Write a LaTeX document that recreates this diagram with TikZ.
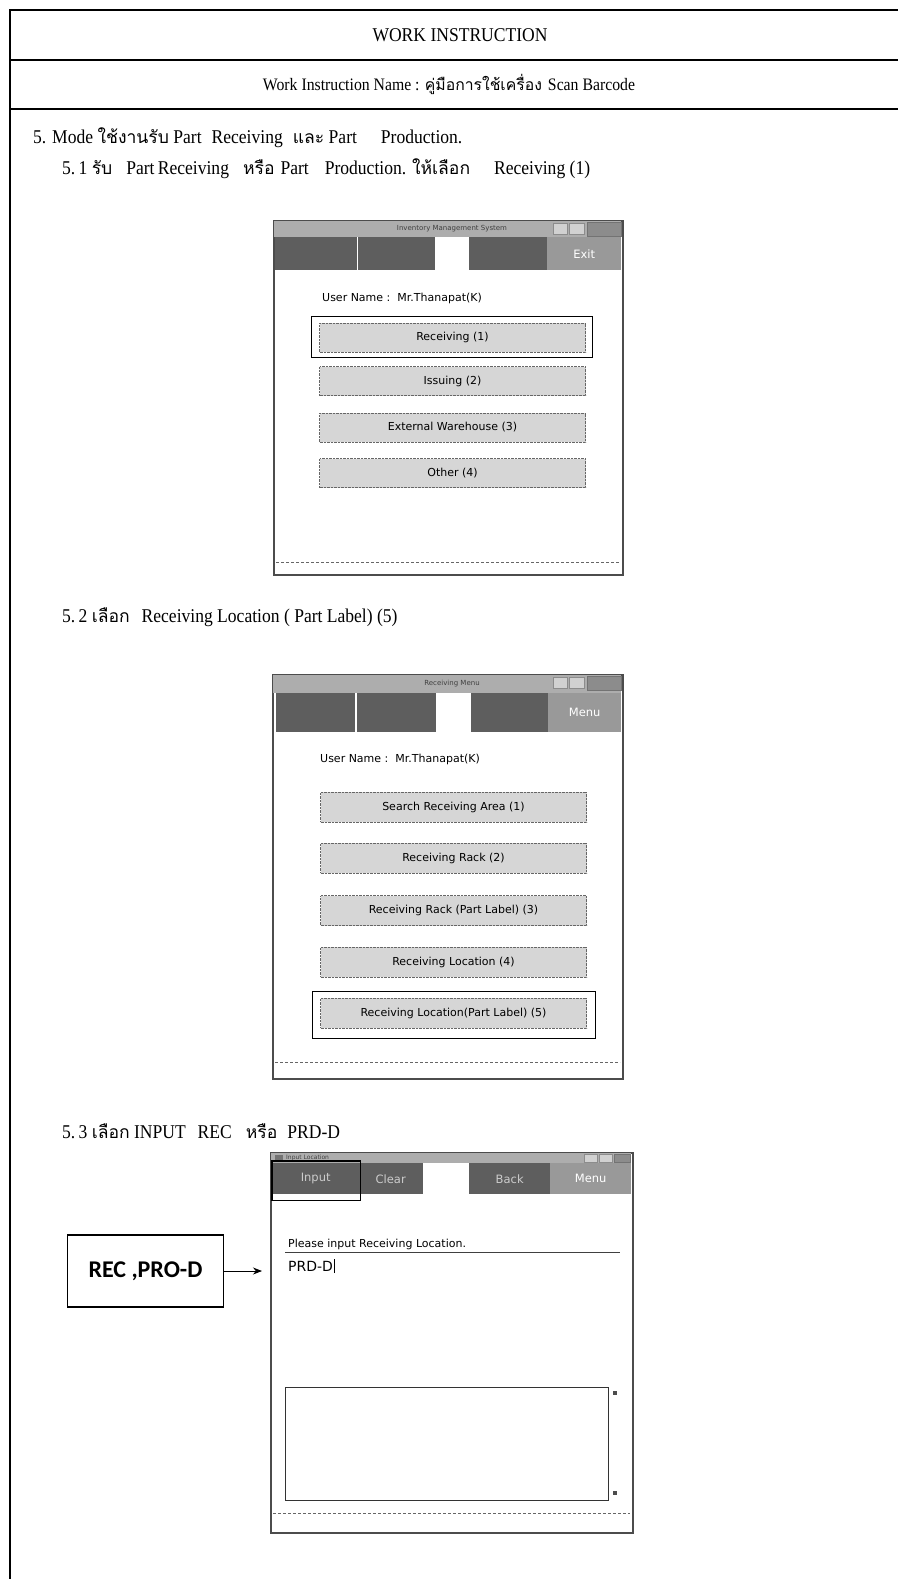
\documentclass[tikz,border=0pt]{standalone}
\usepackage{fontspec}
\setmainfont{Liberation Serif}[FakeStretch=0.9]
\setsansfont{DejaVu Sans}
\newfontfamily\thaifont[Script=Thai,Scale=0.9]{Loma}
\newfontfamily\labelfont{Carlito}
\newcommand{\thaitext}[1]{{\thaifont #1}}
\newcommand{\gap}[1]{\hspace{#1pt}}
\usetikzlibrary{calc,positioning,arrows.meta}

\tikzset{
  sheetline/.style={line width=1.8pt},
  heading/.style={inner sep=0pt,font=\fontsize{17.5}{21}\selectfont},
  steptext/.style={inner sep=0pt,anchor=base west,font=\fontsize{19.5}{23}\selectfont},
  window/.style={draw=black!70,line width=2pt,fill=white,anchor=north west,inner sep=0pt},
  titlebar/.style={fill=black!32},
  wintitle/.style={inner sep=0pt,font=\sffamily\fontsize{7}{8}\selectfont,text=black!75},
  toolfill/.style={fill=black!63},
  toolbtn/.style={toolfill,anchor=north west,inner sep=0pt,text=white!80!black,
    font=\sffamily\fontsize{11.5}{13}\selectfont},
  lightbtn/.style={toolbtn,fill=black!40,text=white},
  menubtn/.style={draw=black!60,densely dotted,fill=black!16,inner sep=0pt,
    minimum width=266pt,minimum height=29pt,font=\sffamily\fontsize{11}{13}\selectfont},
  pick/.style={draw=black,line width=1.2pt},
  shottext/.style={inner sep=0pt,anchor=base west,font=\sffamily\fontsize{11}{13}\selectfont},
  statusline/.style={draw=black!60,densely dashed,line width=0.8pt},
  ctrlbox/.style={fill=black!18,draw=black!45,line width=0.5pt},
  closebox/.style={fill=black!45,draw=black!55,line width=0.5pt},
}

\begin{document}
\begin{tikzpicture}[x=1pt,y=-1pt]
\useasboundingbox (0,0) rectangle (898,1579);
\fill[white] (0,0) rectangle (898,1579);

% sheet frame and header rows
\draw[sheetline] (10,1579) -- (10,10) -- (898,10);
\draw[sheetline] (10,60) -- (898,60);
\draw[sheetline] (10,109) -- (898,109);
\node[heading,font=\fontsize{19.5}{23}\selectfont] (head) at (460,35) {WORK INSTRUCTION};
\node[heading] (winame) at (449,84) {Work Instruction Name : \thaitext{คู่มือการใช้เครื่อง}\gap{6}Scan Barcode};

% step texts
\node[steptext] (step5) at (33,143) {5. Mode \thaitext{ใช้งานรับ} Part\gap{10}Receiving\gap{10}\thaitext{และ} Part\gap{24}Production.};
\node[steptext] (step51) at (62,174) {5.\,1 \thaitext{รับ}\gap{14}Part\,Receiving\gap{14}\thaitext{หรือ}\gap{6}Part\gap{16}Production. \thaitext{ให้เลือก}\gap{24}Receiving (1)};
\node[steptext] (step52) at (62,622) {5.\,2 \thaitext{เลือก}\gap{12}Receiving Location ( Part Label) (5)};
\node[steptext] (step53) at (62,1138) {5.\,3 \thaitext{เลือก} INPUT\gap{12}REC\gap{14}\thaitext{หรือ}\gap{10}PRD-D};

% screen 1 : main menu
\node[window,minimum width=349pt,minimum height=354pt] (win1) at (273,220) {};
\fill[titlebar] (274,221) rectangle (621,237);
\node[wintitle] (title1) at (452,229) {Inventory Management System};
\draw[ctrlbox] (553,223) rectangle (567,234);
\draw[ctrlbox] (569,223) rectangle (584,234);
\draw[closebox] (587,222) rectangle (621,236);
\fill[toolfill] (275,237) rectangle (357,270);
\fill[toolfill] (358,237) rectangle (435,270);
\fill[toolfill] (469,237) rectangle (547,270);
\node[lightbtn,minimum width=74pt,minimum height=33pt] (exit1) at (547,237) {Exit};
\node[shottext] (user1) at (322,301) {User Name :\ \ Mr.Thanapat(K)};
\node[menubtn] (rcv) at (452.5,337.5) {Receiving (1)};
\node[menubtn] (iss) at (452.5,381) {Issuing (2)};
\node[menubtn] (ext) at (452.5,427.5) {External Warehouse (3)};
\node[menubtn] (oth) at (452.5,473) {Other (4)};
\draw[pick] ($(rcv.north west)+(-8,-6)$) rectangle ($(rcv.south east)+(7,5)$);
\draw[statusline] (276,562) -- (620,562);

% screen 2 : receiving menu
\node[window,minimum width=350pt,minimum height=404pt] (win2) at (272,674) {};
\fill[titlebar] (273,675) rectangle (621,693);
\node[wintitle] (title2) at (452,684) {Receiving Menu};
\draw[ctrlbox] (553,677) rectangle (567,688);
\draw[ctrlbox] (569,677) rectangle (584,688);
\draw[closebox] (587,676) rectangle (621,690);
\fill[toolfill] (276,693) rectangle (355,732);
\fill[toolfill] (357,693) rectangle (436,732);
\fill[toolfill] (471,693) rectangle (548,732);
\node[lightbtn,minimum width=73pt,minimum height=39pt] (menu2) at (548,693) {Menu};
\node[shottext] (user2) at (320,762) {User Name :\ \ Mr.Thanapat(K)};
\node[menubtn,minimum height=30pt] (srch) at (453.5,807) {Search Receiving Area (1)};
\node[menubtn,minimum height=30pt] (rack) at (453.5,858) {Receiving Rack (2)};
\node[menubtn,minimum height=30pt] (rackpl) at (453.5,910.5) {Receiving Rack (Part Label) (3)};
\node[menubtn,minimum height=30pt] (loc) at (453.5,962) {Receiving Location (4)};
\node[menubtn,minimum height=30pt] (locpl) at (453.5,1013) {Receiving Location(Part Label) (5)};
\draw[pick] ($(locpl.north west)+(-8,-6)$) rectangle ($(locpl.south east)+(9,10)$);
\draw[statusline] (275,1062) -- (620,1062);

% screen 3 : input location
\node[window,minimum width=362pt,minimum height=380pt] (win3) at (270,1152) {};
\fill[titlebar] (271,1153) rectangle (631,1163);
\fill[black!55] (275,1155) rectangle (283,1161);
\node[wintitle,anchor=west,font=\sffamily\fontsize{6}{7}\selectfont] (title3) at (286,1158) {Input Location};
\draw[ctrlbox] (584,1154) rectangle (597,1162);
\draw[ctrlbox] (599,1154) rectangle (612,1162);
\draw[closebox] (614,1154) rectangle (630,1162);
\node[toolbtn,minimum width=85pt,minimum height=31pt] (inp) at (273,1163) {Input};
\node[toolbtn,minimum width=65pt,minimum height=31pt] (clr) at (358,1163) {Clear};
\node[toolbtn,minimum width=81pt,minimum height=31pt] (back) at (469,1163) {Back};
\node[lightbtn,minimum width=81pt,minimum height=31pt] (menu3) at (550,1163) {Menu};
\draw[pick] ($(inp.north west)+(-1,-2)$) rectangle ($(inp.south east)+(2,6)$);
\node[shottext] (prompt) at (288,1247) {Please input Receiving Location.};
\draw[black!75,line width=0.9pt] (285,1252) -- (620,1252);
\node[shottext,font=\sffamily\fontsize{14}{16}\selectfont] (value) at (288,1271) {PRD-D};
\draw[line width=0.8pt] ($(value.base east)+(1.5,2)$) -- ($(value.base east)+(1.5,-12)$);
\node[draw=black!80,line width=1.3pt,anchor=north west,inner sep=0pt,
  minimum width=323pt,minimum height=113pt] (logbox) at (285,1387) {};
\fill[black!70] (613,1391) rectangle (617,1395);
\fill[black!70] (613,1491) rectangle (617,1495);
\draw[statusline] (273,1513) -- (630,1513);

% location hint
\node[draw,line width=1.6pt,minimum width=156pt,minimum height=72pt,
  font=\labelfont\bfseries\fontsize{24}{28}\selectfont] (recbox) at (145.5,1271) {REC ,PRO-D};
\draw[-{Stealth[length=9pt,width=7pt]},line width=0.9pt,shorten >=8pt] (recbox) -- (recbox -| win3.west);
\end{tikzpicture}
\end{document}
